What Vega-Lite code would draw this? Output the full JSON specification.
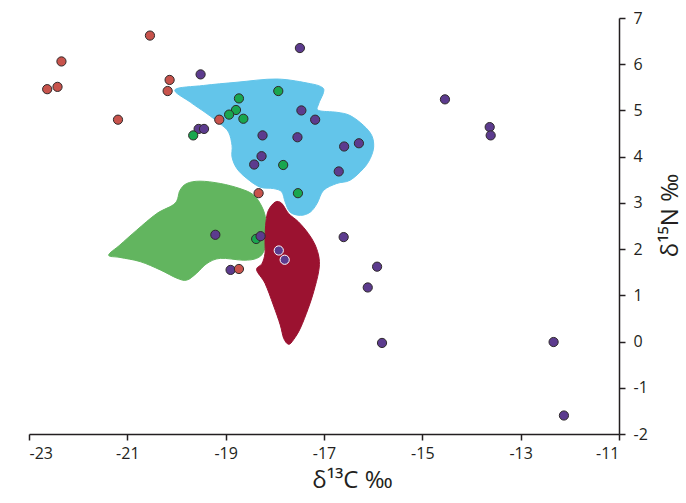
{
  "$schema": "https://vega.github.io/schema/vega-lite/v6.json",
  "width": 590,
  "height": 416,
  "autosize": {"type": "none"},
  "padding": {"left": 29, "top": 18, "right": 67, "bottom": 69},
  "background": "white",
  "config": {
    "view": {"stroke": null},
    "font": "Open Sans",
    "axis": {
      "grid": false,
      "domainColor": "#231f20",
      "domainWidth": 1.5,
      "tickColor": "#231f20",
      "tickWidth": 1.5,
      "tickSize": 6,
      "labelColor": "#231f20",
      "labelFont": "Open Sans",
      "labelFontSize": 16,
      "labelExpr": "replace(datum.label, '−', '-')",
      "titleColor": "#231f20",
      "titleFont": "Open Sans",
      "titleFontSize": 24,
      "titleFontWeight": "normal"
    }
  },
  "datasets": {
    "blueRegion": [
      {"i": 1, "c13": -20.03, "n15": 5.45},
      {"i": 2, "c13": -19.45, "n15": 5.54},
      {"i": 3, "c13": -18.77, "n15": 5.61},
      {"i": 4, "c13": -17.96, "n15": 5.68},
      {"i": 5, "c13": -17.28, "n15": 5.58},
      {"i": 6, "c13": -17.04, "n15": 5.5},
      {"i": 7, "c13": -17.01, "n15": 5.39},
      {"i": 8, "c13": -17.11, "n15": 5.14},
      {"i": 9, "c13": -17.11, "n15": 5.0},
      {"i": 10, "c13": -16.74, "n15": 4.96},
      {"i": 11, "c13": -16.47, "n15": 4.89},
      {"i": 12, "c13": -16.2, "n15": 4.68},
      {"i": 13, "c13": -16.03, "n15": 4.46},
      {"i": 14, "c13": -15.99, "n15": 4.21},
      {"i": 15, "c13": -16.06, "n15": 3.96},
      {"i": 16, "c13": -16.2, "n15": 3.74},
      {"i": 17, "c13": -16.47, "n15": 3.49},
      {"i": 18, "c13": -16.74, "n15": 3.42},
      {"i": 19, "c13": -17.01, "n15": 3.27},
      {"i": 20, "c13": -17.14, "n15": 2.99},
      {"i": 21, "c13": -17.28, "n15": 2.8},
      {"i": 22, "c13": -17.48, "n15": 2.73},
      {"i": 23, "c13": -17.69, "n15": 2.8},
      {"i": 24, "c13": -17.79, "n15": 3.02},
      {"i": 25, "c13": -17.86, "n15": 3.24},
      {"i": 26, "c13": -18.03, "n15": 3.31},
      {"i": 27, "c13": -18.3, "n15": 3.34},
      {"i": 28, "c13": -18.57, "n15": 3.53},
      {"i": 29, "c13": -18.77, "n15": 3.74},
      {"i": 30, "c13": -18.87, "n15": 3.99},
      {"i": 31, "c13": -18.87, "n15": 4.24},
      {"i": 32, "c13": -18.94, "n15": 4.53},
      {"i": 33, "c13": -19.11, "n15": 4.71},
      {"i": 34, "c13": -19.38, "n15": 4.93},
      {"i": 35, "c13": -19.72, "n15": 5.18}
    ],
    "greenRegion": [
      {"i": 1, "c13": -21.38, "n15": 1.87},
      {"i": 2, "c13": -21.15, "n15": 2.09},
      {"i": 3, "c13": -20.81, "n15": 2.41},
      {"i": 4, "c13": -20.4, "n15": 2.77},
      {"i": 5, "c13": -20.03, "n15": 2.99},
      {"i": 6, "c13": -19.93, "n15": 3.27},
      {"i": 7, "c13": -19.79, "n15": 3.42},
      {"i": 8, "c13": -19.52, "n15": 3.47},
      {"i": 9, "c13": -19.11, "n15": 3.42},
      {"i": 10, "c13": -18.71, "n15": 3.31},
      {"i": 11, "c13": -18.43, "n15": 3.17},
      {"i": 12, "c13": -18.26, "n15": 2.91},
      {"i": 13, "c13": -18.18, "n15": 2.63},
      {"i": 14, "c13": -18.16, "n15": 2.27},
      {"i": 15, "c13": -18.23, "n15": 1.94},
      {"i": 16, "c13": -18.37, "n15": 1.8},
      {"i": 17, "c13": -18.64, "n15": 1.76},
      {"i": 18, "c13": -19.11, "n15": 1.8},
      {"i": 19, "c13": -19.38, "n15": 1.69},
      {"i": 20, "c13": -19.59, "n15": 1.48},
      {"i": 21, "c13": -19.79, "n15": 1.33},
      {"i": 22, "c13": -19.99, "n15": 1.37},
      {"i": 23, "c13": -20.33, "n15": 1.55},
      {"i": 24, "c13": -20.74, "n15": 1.73},
      {"i": 25, "c13": -21.15, "n15": 1.82}
    ],
    "redRegion": [
      {"i": 1, "c13": -17.99, "n15": 3.02},
      {"i": 2, "c13": -17.86, "n15": 2.99},
      {"i": 3, "c13": -17.72, "n15": 2.77},
      {"i": 4, "c13": -17.52, "n15": 2.59},
      {"i": 5, "c13": -17.32, "n15": 2.34},
      {"i": 6, "c13": -17.18, "n15": 2.09},
      {"i": 7, "c13": -17.1, "n15": 1.8},
      {"i": 8, "c13": -17.11, "n15": 1.51},
      {"i": 9, "c13": -17.21, "n15": 1.08},
      {"i": 10, "c13": -17.32, "n15": 0.72},
      {"i": 11, "c13": -17.48, "n15": 0.29},
      {"i": 12, "c13": -17.62, "n15": 0.04},
      {"i": 13, "c13": -17.72, "n15": -0.06},
      {"i": 14, "c13": -17.82, "n15": 0.07},
      {"i": 15, "c13": -17.89, "n15": 0.36},
      {"i": 16, "c13": -18.03, "n15": 0.79},
      {"i": 17, "c13": -18.2, "n15": 1.26},
      {"i": 18, "c13": -18.37, "n15": 1.55},
      {"i": 19, "c13": -18.26, "n15": 1.69},
      {"i": 20, "c13": -18.2, "n15": 1.91},
      {"i": 21, "c13": -18.2, "n15": 2.23},
      {"i": 22, "c13": -18.18, "n15": 2.59},
      {"i": 23, "c13": -18.13, "n15": 2.84}
    ],
    "points": [
      {"group": "purple", "c13": -17.49, "n15": 6.35},
      {"group": "purple", "c13": -19.51, "n15": 5.78},
      {"group": "purple", "c13": -19.55, "n15": 4.6},
      {"group": "purple", "c13": -19.44, "n15": 4.6},
      {"group": "purple", "c13": -17.46, "n15": 5.0},
      {"group": "purple", "c13": -17.18, "n15": 4.8},
      {"group": "purple", "c13": -18.25, "n15": 4.46},
      {"group": "purple", "c13": -17.54, "n15": 4.42},
      {"group": "purple", "c13": -16.59, "n15": 4.22},
      {"group": "purple", "c13": -16.29, "n15": 4.29},
      {"group": "purple", "c13": -18.27, "n15": 4.01},
      {"group": "purple", "c13": -18.42, "n15": 3.83},
      {"group": "purple", "c13": -16.7, "n15": 3.68},
      {"group": "purple", "c13": -14.54, "n15": 5.24},
      {"group": "purple", "c13": -13.63, "n15": 4.64},
      {"group": "purple", "c13": -13.61, "n15": 4.46},
      {"group": "purple", "c13": -19.21, "n15": 2.31},
      {"group": "purple", "c13": -16.6, "n15": 2.26},
      {"group": "purple", "c13": -18.9, "n15": 1.55},
      {"group": "purple", "c13": -15.92, "n15": 1.62},
      {"group": "purple", "c13": -16.11, "n15": 1.17},
      {"group": "purple", "c13": -15.82, "n15": -0.03},
      {"group": "purple", "c13": -12.33, "n15": -0.01},
      {"group": "purple", "c13": -12.12, "n15": -1.6},
      {"group": "red", "c13": -20.54, "n15": 6.62},
      {"group": "red", "c13": -22.34, "n15": 6.06},
      {"group": "red", "c13": -22.63, "n15": 5.46},
      {"group": "red", "c13": -22.42, "n15": 5.51},
      {"group": "red", "c13": -20.14, "n15": 5.66},
      {"group": "red", "c13": -20.18, "n15": 5.42},
      {"group": "red", "c13": -21.19, "n15": 4.8},
      {"group": "red", "c13": -19.13, "n15": 4.8},
      {"group": "red", "c13": -18.33, "n15": 3.21},
      {"group": "red", "c13": -18.73, "n15": 1.57},
      {"group": "green", "c13": -18.73, "n15": 5.26},
      {"group": "green", "c13": -18.79, "n15": 5.01},
      {"group": "green", "c13": -18.93, "n15": 4.91},
      {"group": "green", "c13": -18.64, "n15": 4.82},
      {"group": "green", "c13": -17.93, "n15": 5.42},
      {"group": "green", "c13": -19.66, "n15": 4.46},
      {"group": "green", "c13": -17.83, "n15": 3.82},
      {"group": "green", "c13": -17.53, "n15": 3.21},
      {"group": "green", "c13": -18.38, "n15": 2.22},
      {"group": "purple", "c13": -18.29, "n15": 2.28},
      {"group": "purple (white edge)", "c13": -17.92, "n15": 1.97},
      {"group": "purple (white edge)", "c13": -17.8, "n15": 1.77}
    ]
  },
  "encoding": {
    "x": {
      "field": "c13", "type": "quantitative",
      "scale": {"domain": [-23, -11], "nice": false, "zero": false},
      "axis": {"orient": "bottom", "values": [-23, -21, -19, -17, -15, -13, -11], "title": "δ¹³C ‰", "labelPadding": 5, "titleX": 323, "titleY": 34, "titleBaseline": "top"}
    },
    "y": {
      "field": "n15", "type": "quantitative",
      "scale": {"domain": [-2, 7], "nice": false, "zero": false},
      "axis": {"orient": "right", "values": [-2, -1, 0, 1, 2, 3, 4, 5, 6, 7], "title": "δ¹⁵N ‰", "titleAngle": -90, "labelPadding": 8, "titleX": 51, "titleY": 197, "titleAlign": "center", "titleBaseline": "middle"}
    }
  },
  "layer": [
    {
      "data": {"name": "blueRegion"},
      "mark": {"type": "line", "interpolate": "cardinal-closed", "fill": "#63c5ea", "stroke": "#63c5ea", "strokeWidth": 1},
      "encoding": {"order": {"field": "i", "type": "quantitative"}}
    },
    {
      "data": {"name": "greenRegion"},
      "mark": {"type": "line", "interpolate": "cardinal-closed", "fill": "#62b55f", "stroke": "#62b55f", "strokeWidth": 1},
      "encoding": {"order": {"field": "i", "type": "quantitative"}}
    },
    {
      "data": {"name": "redRegion"},
      "mark": {"type": "line", "interpolate": "cardinal-closed", "fill": "#9b1230", "stroke": "#9b1230", "strokeWidth": 1},
      "encoding": {"order": {"field": "i", "type": "quantitative"}}
    },
    {
      "data": {"name": "points"},
      "mark": {"type": "circle", "size": 85, "opacity": 1, "strokeWidth": 1},
      "encoding": {
        "fill": {
          "field": "group", "type": "nominal",
          "scale": {"domain": ["red", "green", "purple", "purple (white edge)"], "range": ["#c8534c", "#19a64f", "#5c3b8e", "#5c3b8e"]},
          "legend": null
        },
        "stroke": {
          "field": "group", "type": "nominal",
          "scale": {"domain": ["red", "green", "purple", "purple (white edge)"], "range": ["#2f2a2b", "#2f2a2b", "#2f2a2b", "#ffffff"]},
          "legend": null
        }
      }
    }
  ]
}
